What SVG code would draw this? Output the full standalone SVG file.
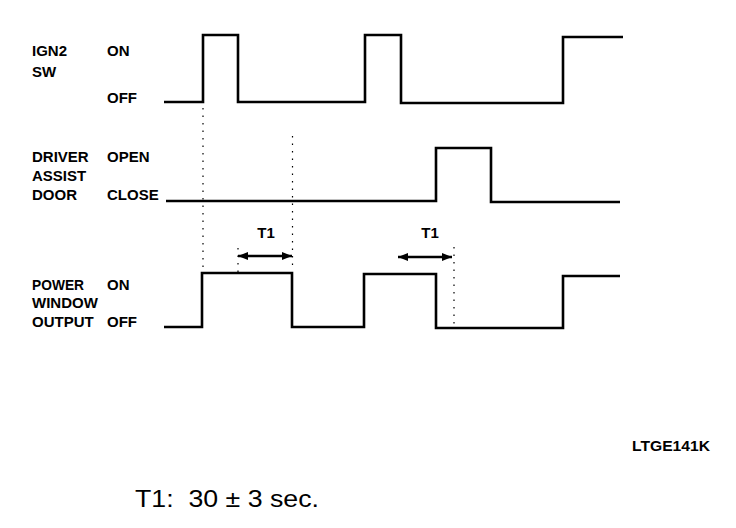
<svg xmlns="http://www.w3.org/2000/svg" width="736" height="528" viewBox="0 0 736 528">
<style>
  .lbl { font-family: "Liberation Sans", Arial, sans-serif; font-size: 15px; font-weight: bold; fill: #000; }
  .wave { fill: none; stroke: #000; stroke-width: 2.6; stroke-linejoin: miter; stroke-linecap: butt; }
  .dot { fill: none; stroke: #000; stroke-width: 1.2; stroke-dasharray: 1.5 6; }
  .dim { fill: none; stroke: #000; stroke-width: 2.6; }
</style>
<defs>
  <marker id="ah" viewBox="0 0 10 8" refX="10" refY="4" markerWidth="10" markerHeight="8" markerUnits="userSpaceOnUse" orient="auto-start-reverse">
    <path d="M0,0 L10,4 L0,8 Z" fill="#000"/>
  </marker>
</defs>
<rect width="736" height="528" fill="#fff"/>

<g id="ign2-sw">
  <text class="lbl" x="32" y="56">IGN2</text>
  <text class="lbl" x="32" y="77">SW</text>
  <text class="lbl" x="107" y="56">ON</text>
  <text class="lbl" x="107" y="103">OFF</text>
  <polyline class="wave" points="164,102 203,102 203,35 238,35 238,102 365,102 365,35 401,35 401,103 563,103 563,37 623,37"/>
</g>

<g id="driver-assist-door">
  <text class="lbl" x="32" y="162">DRIVER</text>
  <text class="lbl" x="32" y="181">ASSIST</text>
  <text class="lbl" x="32" y="200">DOOR</text>
  <text class="lbl" x="107" y="162">OPEN</text>
  <text class="lbl" x="107" y="200">CLOSE</text>
  <polyline class="wave" points="166,201 436,201 436,148 491,148 491,202 620,202"/>
</g>

<g id="power-window-output">
  <text class="lbl" x="32" y="290" textLength="52" lengthAdjust="spacingAndGlyphs">POWER</text>
  <text class="lbl" x="32" y="308">WINDOW</text>
  <text class="lbl" x="32" y="327">OUTPUT</text>
  <text class="lbl" x="107" y="290">ON</text>
  <text class="lbl" x="107" y="327">OFF</text>
  <polyline class="wave" points="164,327 202,327 202,273 292,273 292,327 364,327 364,274 436,274 436,328 563,328 563,276 620,276"/>
</g>

<g id="connectors">
  <line class="dot" x1="203" y1="108" x2="203" y2="271"/>
  <line class="dot" x1="292.5" y1="136" x2="292.5" y2="271"/>
  <line class="dot" x1="238" y1="248" x2="238" y2="272"/>
  <line class="dot" x1="454" y1="247" x2="454" y2="325"/>
  <line class="dim" x1="238" y1="256" x2="292" y2="256" marker-start="url(#ah)" marker-end="url(#ah)"/>
  <line class="dim" x1="398" y1="257" x2="452" y2="257" marker-start="url(#ah)" marker-end="url(#ah)"/>
</g>

<g id="t1-labels">
  <text class="lbl" x="266" y="238" text-anchor="middle">T1</text>
  <text class="lbl" x="430" y="238" text-anchor="middle">T1</text>
</g>

<text class="lbl" x="632" y="451" font-size="14" textLength="78" lengthAdjust="spacingAndGlyphs">LTGE141K</text>
<text x="135" y="507" font-family="'Liberation Sans', Arial, sans-serif" font-size="24" fill="#000" xml:space="preserve" textLength="184" lengthAdjust="spacingAndGlyphs">T1:  30 ± 3 sec.</text>
</svg>
